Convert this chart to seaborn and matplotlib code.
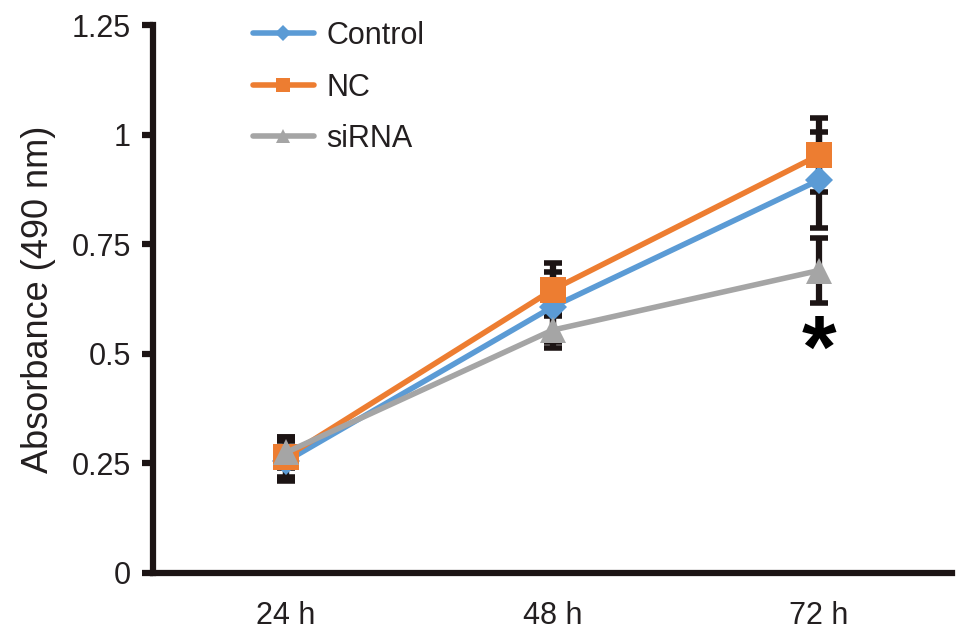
import numpy as np
import pandas as pd
import matplotlib
matplotlib.use("Agg")
import matplotlib.pyplot as plt
import seaborn as sns
from matplotlib.lines import Line2D

# --- data ---
time_labels = ["24 h", "48 h", "72 h"]
groups = ["Control", "NC", "siRNA"]
control_mean = [0.255, 0.607, 0.896]
nc_mean = [0.265, 0.646, 0.953]
sirna_mean = [0.275, 0.554, 0.690]
control_err = [0.045, 0.08, 0.11]
nc_err = [0.045, 0.06, 0.085]
sirna_err = [0.035, 0.04, 0.075]
y_ticks = [0, 0.25, 0.5, 0.75, 1, 1.25]
y_tick_labels = ["0", "0.25", "0.5", "0.75", "1", "1.25"]
star_pos = (2, 0.50)

colors = {"Control": "#5B9BD5", "NC": "#ED7D31", "siRNA": "#A5A5A5"}
markers = {"Control": "D", "NC": "s", "siRNA": "^"}
msizes = {"Control": 14, "NC": 19, "siRNA": 19}
dark = "#1c1414"
text_col = "#231f20"

means = {"Control": control_mean, "NC": nc_mean, "siRNA": sirna_mean}
errs = {"Control": control_err, "NC": nc_err, "siRNA": sirna_err}

rows = []
for g in groups:
    for i, t in enumerate(time_labels):
        rows.append({"group": g, "pos": i, "time": t, "absorbance": means[g][i], "err": errs[g][i]})
df = pd.DataFrame(rows)

sns.set_style("white")
plt.rcParams["font.family"] = ["Liberation Sans", "DejaVu Sans"]

fig = plt.figure(figsize=(9.69, 6.4), dpi=100)
ax = fig.add_axes([0.1579, 0.1047, 0.8246, 0.8562])

# error bars first (black, beneath markers)
for g in groups:
    d = df[df["group"] == g]
    ax.errorbar(d["pos"], d["absorbance"], yerr=d["err"], fmt="none",
                ecolor=dark, elinewidth=4.5, capsize=6.5, capthick=4, zorder=2)

# lines, one call per series so marker sizes can differ
for k, g in enumerate(groups):
    d = df[df["group"] == g]
    sns.lineplot(data=d, x="pos", y="absorbance", color=colors[g], marker=markers[g],
                 markersize=msizes[g], markeredgewidth=0, linewidth=4, ax=ax,
                 legend=False, zorder=3 + k)

ax.text(star_pos[0], star_pos[1], "*", ha="center", va="center",
        fontsize=64, fontweight="bold", color="black", zorder=10)

# axes styling
ax.set_xlim(-0.5, 2.5)
ax.set_ylim(0, 1.25)
ax.set_xticks(range(len(time_labels)))
ax.set_xticklabels(time_labels, fontsize=22, color=text_col)
ax.set_xticks([-0.5, 0.5, 1.5, 2.5], minor=True)
ax.tick_params(axis="x", which="major", length=0, pad=20)
ax.tick_params(axis="x", which="minor", length=11, width=4.5, color=dark, direction="out")
ax.set_yticks(y_ticks)
ax.set_yticklabels(y_tick_labels, fontsize=22, color=text_col)
ax.tick_params(axis="y", length=8, width=4.5, color=dark, direction="out", pad=8, left=True)
ax.set_xlabel("")
ax.set_ylabel("Absorbance (490 nm)", fontsize=26, labelpad=11, color=text_col)

for side in ["top", "right"]:
    ax.spines[side].set_visible(False)
for side in ["left", "bottom"]:
    ax.spines[side].set_linewidth(4.5)
    ax.spines[side].set_color(dark)
    ax.spines[side].set_capstyle("projecting")

handles = [Line2D([0], [0], color=colors[g], marker=markers[g], linewidth=4,
                  markersize=msizes[g] * 0.55, markeredgewidth=0) for g in groups]
leg = ax.legend(handles, groups, loc="upper left", bbox_to_anchor=(0.125, 1.007),
                frameon=False, fontsize=22, handlelength=2.0, handletextpad=0.4,
                labelspacing=0.7, borderpad=0, borderaxespad=0)
for t in leg.get_texts():
    t.set_color(text_col)

fig.savefig("out.png", dpi=100)
